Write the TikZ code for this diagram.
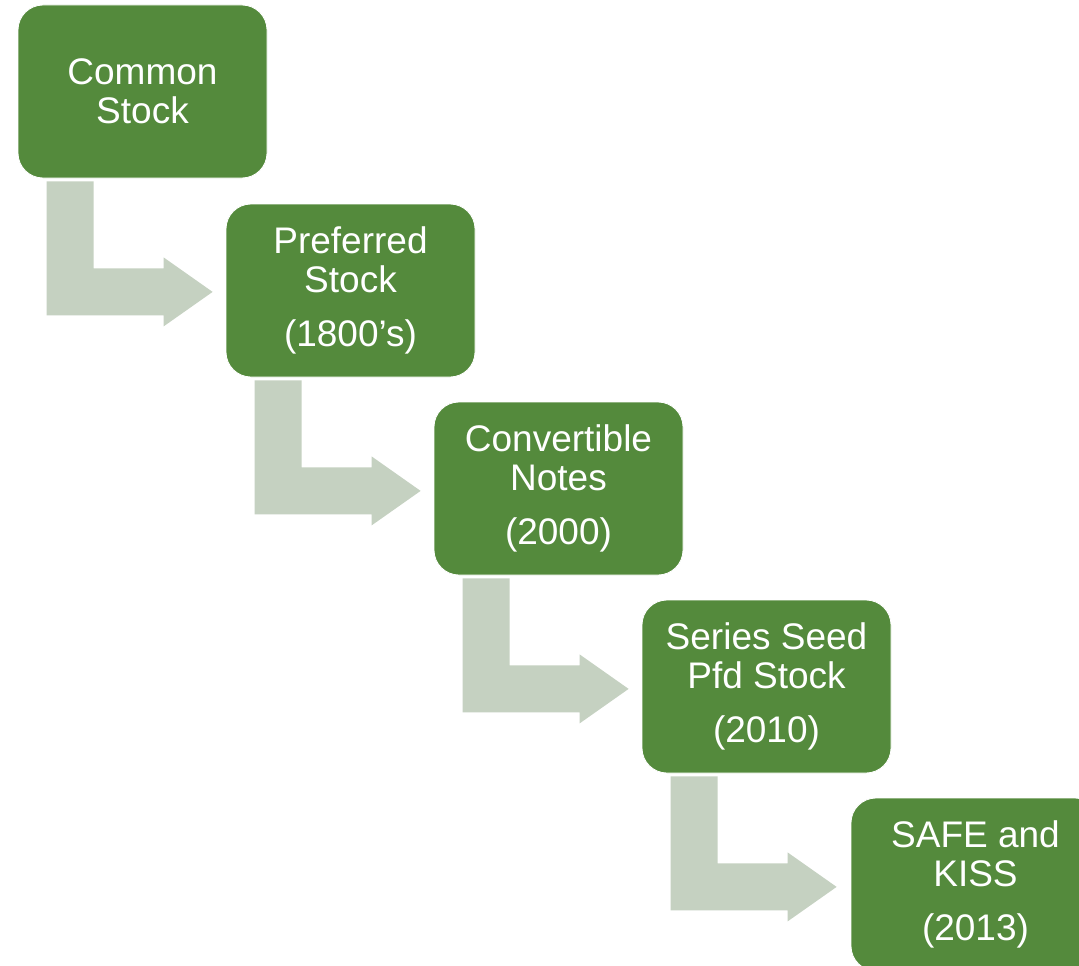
\documentclass[tikz,border=0pt]{standalone}
\usepackage{fontspec}
\setmainfont{Liberation Sans}
\usetikzlibrary{calc}
\definecolor{boxgreen}{HTML}{548A3C}
\definecolor{arrowgrey}{HTML}{C5D1C1}
\tikzset{
  stagebox/.style={rectangle, rounded corners=25pt, fill=boxgreen, draw=white, line width=0.8pt,
    minimum width=249pt, minimum height=173pt, text=white, align=center, inner sep=0pt,
    font=\fontsize{37}{38.5}\selectfont},
  bentarrow/.style={fill=arrowgrey, draw=none}
}
\newcommand{\bentarrowfrom}[1]{%
  \fill[bentarrow]
    ($(#1.south west)+(29,3)$) -- ($(#1.south west)+(76,3)$) --
    ($(#1.south west)+(76,90)$) -- ($(#1.south west)+(146,90)$) --
    ($(#1.south west)+(146,79)$) -- ($(#1.south west)+(195,113.5)$) --
    ($(#1.south west)+(146,148)$) -- ($(#1.south west)+(146,137)$) --
    ($(#1.south west)+(29,137)$) -- cycle;}
\begin{document}
\begin{tikzpicture}[x=1pt,y=-1pt]
\clip (0,0) rectangle (1079,966);
\fill[white] (0,0) rectangle (1079,966);
\node[stagebox] (b1) at (142.5,91.5) {Common\\Stock};
\node[stagebox] (b2) at (350.5,290.5) {Preferred\\Stock\\[15.5pt](1800’s)};
\node[stagebox] (b3) at (558.5,488.5) {Convertible\\Notes\\[15.5pt](2000)};
\node[stagebox] (b4) at (766.5,686.5) {Series Seed\\Pfd Stock\\[15.5pt](2010)};
\node[stagebox] (b5) at (975.5,884.5) {SAFE and\\KISS\\[15.5pt](2013)};
\bentarrowfrom{b1}
\bentarrowfrom{b2}
\bentarrowfrom{b3}
\bentarrowfrom{b4}
\end{tikzpicture}
\end{document}
